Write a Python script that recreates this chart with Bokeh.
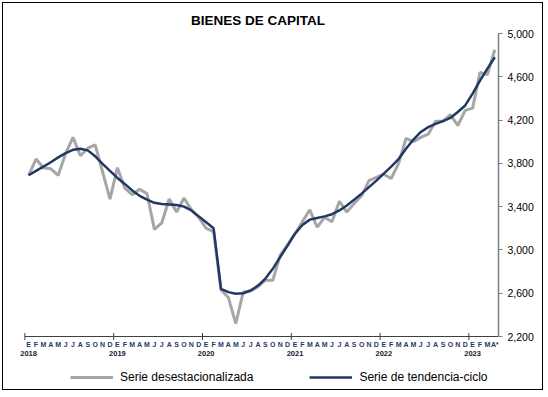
from bokeh.plotting import figure
from bokeh.models import FixedTicker, NumeralTickFormatter, Range1d, Legend, LegendItem
from bokeh.embed import file_html
from bokeh.resources import INLINE
from bokeh.core.properties import value

month_letters = ["E", "F", "M", "A", "M", "J", "J", "A", "S", "O", "N", "D"]
years = [2018, 2019, 2020, 2021, 2022, 2023]
y_ticks = [2200, 2600, 3000, 3400, 3800, 4200, 4600, 5000]

# Serie desestacionalizada (Ene 2018 - Abr 2023)
desest = [
    3690, 3840, 3760, 3750, 3690, 3890, 4040, 3870, 3940, 3970, 3720, 3470,
    3760, 3570, 3510, 3560, 3520, 3190, 3250, 3470, 3350, 3480, 3370, 3300,
    3200, 3170, 2630, 2560, 2320, 2610, 2620, 2660, 2720, 2720, 2950, 3050,
    3150, 3260, 3370, 3210, 3300, 3260, 3450, 3350, 3430, 3500, 3640, 3670,
    3700, 3660, 3800, 4030, 4000, 4040, 4070, 4190, 4190, 4250, 4150, 4290,
    4310, 4640, 4620, 4850,
]
# Serie de tendencia-ciclo
tendencia = [
    3690, 3730, 3770, 3810, 3855, 3895, 3925, 3935, 3920, 3865, 3795, 3730,
    3665, 3610, 3550, 3500, 3465, 3435, 3425, 3420, 3415, 3400, 3365, 3310,
    3255, 3200, 2640, 2610, 2595, 2600, 2625, 2670, 2735, 2825, 2935, 3040,
    3150, 3230, 3280, 3295, 3310, 3330, 3365, 3410, 3465, 3520, 3580, 3640,
    3705, 3770, 3840, 3935, 4020, 4090, 4135, 4165, 4190, 4220, 4275, 4335,
    4445, 4565, 4675, 4780,
]

n = len(desest)
xs = [i + 0.5 for i in range(n)]

FONT = "Liberation Sans"
NAVY = "#1f3864"
GRAY = "#a6a6a6"
AXIS = "#404040"

# frame: 354 px tall, the value axis (2200-5000) occupies the top 303 px
ymin, ymax = y_ticks[0], y_ticks[-1]
y_low = ymax - (ymax - ymin) * 354 / 303

p = figure(
    width=541, height=388,
    x_range=Range1d(-1, n), y_range=Range1d(y_low, ymax),
    x_axis_location=None, y_axis_location="right",
    output_backend="svg", toolbar_location=None,
    min_border_left=14, min_border_right=46, min_border_top=30, min_border_bottom=4,
)
p.styles = {"border": "1px solid #000000", "margin-left": "2px", "margin-top": "2px"}
p.outline_line_color = None
p.xgrid.visible = False
p.ygrid.visible = False

p.title.text = "BIENES DE CAPITAL"
p.title.align = "center"
p.title.offset = -3
p.title.standoff = 12
p.title.text_font = FONT
p.title.text_font_size = "13.5px"
p.title.text_font_style = "bold"
p.title.text_color = "#000000"

r1 = p.line(xs, desest, line_color=GRAY, line_width=3)
r2 = p.line(xs, tendencia, line_color=NAVY, line_width=2.5)

# time axis (drawn at the 2,200 base line)
p.segment(x0=[0], y0=[ymin], x1=[n], y1=[ymin], line_color=AXIS, line_width=1)
year_bounds = [12 * k for k in range(len(years))]
p.scatter(year_bounds, [ymin] * len(years), marker="dash", angle=1.5708, size=7,
          line_color=AXIS, line_width=1)

month_labels = [month_letters[i % 12] for i in range(n)]
month_labels[-1] = "A*"
p.text(xs, [ymin] * n, text=month_labels, text_font=value(FONT), text_font_size="7px",
       text_font_style="bold", text_color=NAVY, text_align="center",
       text_baseline="middle", y_offset=8)
year_x = [b + 0.5 for b in year_bounds]
p.text(year_x, [ymin] * len(years), text=[str(y) for y in years], text_font=value(FONT),
       text_font_size="7.5px", text_font_style="bold", text_color="#1a1a2e",
       text_align="center", text_baseline="middle", y_offset=17)

yax = p.yaxis[0]
yax.ticker = FixedTicker(ticks=y_ticks)
yax.bounds = (ymin, ymax)
yax.formatter = NumeralTickFormatter(format="0,0")
yax.axis_line_color = "#7f7f7f"
yax.axis_line_width = 1.5
yax.major_tick_line_color = "#7f7f7f"
yax.major_tick_in = 0
yax.major_tick_out = 4
yax.minor_tick_line_color = None
yax.major_label_standoff = 5
yax.major_label_text_font = FONT
yax.major_label_text_font_size = "10.5px"
yax.major_label_text_color = "#000000"

legend = Legend(
    items=[LegendItem(label="Serie desestacionalizada", renderers=[r1]),
           LegendItem(label="Serie de tendencia-ciclo", renderers=[r2])],
    orientation="horizontal", location=(53, 3),
    border_line_color=None, background_fill_alpha=0,
    glyph_width=43, glyph_height=12, label_standoff=7, spacing=56,
    label_text_font=FONT, label_text_font_size="12px", label_text_color="#000000",
    padding=4, margin=0, label_height=14,
)
p.add_layout(legend)

open("out.html", "w").write(file_html(p, INLINE))
